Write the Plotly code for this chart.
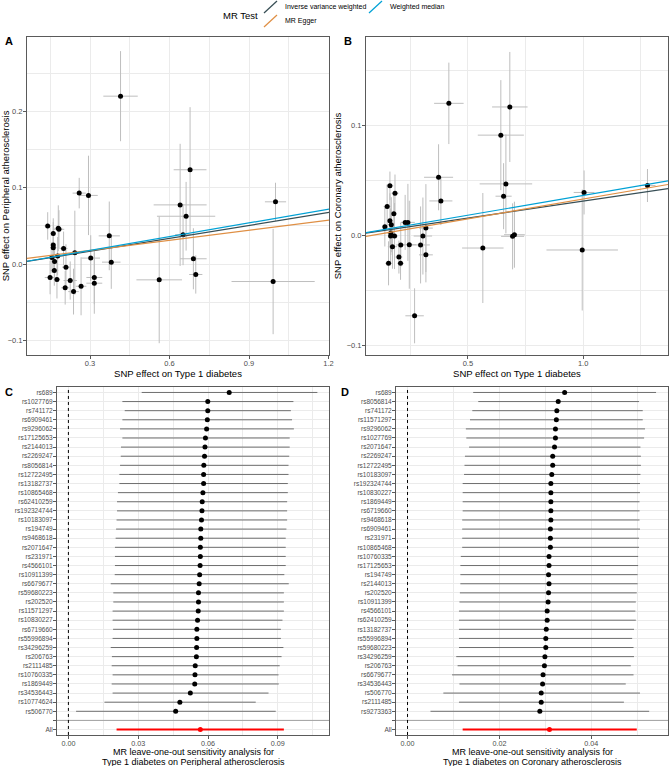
import plotly.graph_objects as go

# === DATA: scatter of SNP effects ===
# Panel A: Type 1 diabetes -> Peripheral atherosclerosis
a_bx = [0.140, 0.161, 0.161, 0.161, 0.1825, 0.180, 0.200, 0.1775, 0.156, 0.2425, 0.166, 0.209,
        0.165, 0.149, 0.175, 0.206, 0.225, 0.2375, 0.266, 0.316, 0.316, 0.3025, 0.3725, 0.380,
        0.259, 0.294, 0.415, 0.640, 0.6625, 0.651, 0.6775, 0.690, 0.699, 0.561, 1.000, 0.991]
a_by = [0.050, 0.040, 0.025, 0.0215, 0.0456, 0.047, 0.0206, 0.0105, 0.0088, 0.015, 0.0035, -0.004,
        -0.0083, -0.0175, -0.020, -0.031, -0.0215, -0.036, -0.029, -0.0175, -0.025, 0.0079, 0.037, 0.0026,
        0.093, 0.090, 0.220, 0.0776, 0.0627, 0.0386, 0.1236, 0.007, -0.0136, -0.0206, 0.0816, -0.0228]
a_sex = [0.012, 0.010, 0.010, 0.012, 0.020, 0.015, 0.015, 0.020, 0.010, 0.012, 0.012, 0.015,
         0.015, 0.020, 0.012, 0.015, 0.025, 0.020, 0.020, 0.030, 0.030, 0.035, 0.040, 0.035,
         0.025, 0.035, 0.065, 0.100, 0.110, 0.030, 0.062, 0.050, 0.025, 0.086, 0.040, 0.157]
a_sey = [0.018, 0.020, 0.030, 0.020, 0.025, 0.030, 0.022, 0.025, 0.020, 0.055, 0.020, 0.030,
         0.020, 0.022, 0.025, 0.022, 0.025, 0.030, 0.038, 0.035, 0.040, 0.030, 0.045, 0.035,
         0.020, 0.052, 0.059, 0.080, 0.045, 0.040, 0.082, 0.040, 0.025, 0.083, 0.025, 0.069]

# Panel B: Type 1 diabetes -> Coronary atherosclerosis
b_bx = [0.4176, 0.682, 0.643, 0.373, 0.162, 0.184, 0.383, 0.150, 0.179, 0.162, 0.140, 0.168,
        0.228, 0.240, 0.318, 0.166, 0.165, 0.182, 0.305, 0.173, 0.209, 0.246, 0.295, 0.318,
        0.201, 0.208, 0.156, 0.269, 0.565, 0.694, 0.702, 0.996, 0.655, 0.665, 1.004, 1.279]
b_by = [0.1197, 0.1164, 0.0908, 0.0525, 0.0447, 0.038, 0.031, 0.026, 0.0193, 0.013, 0.0076, 0.0094,
        0.0115, 0.0115, 0.0063, 0.0018, -0.0009, -0.0009, -0.0009, -0.0106, -0.009, -0.0088, -0.009, -0.018,
        -0.020, -0.0257, -0.0257, -0.0734, -0.0118, -0.0012, 0.0003, -0.0136, 0.0353, 0.0465, 0.0387, 0.045]
b_sex = [0.064, 0.077, 0.100, 0.063, 0.015, 0.015, 0.050, 0.015, 0.012, 0.012, 0.010, 0.015,
         0.020, 0.030, 0.030, 0.015, 0.012, 0.015, 0.040, 0.020, 0.020, 0.030, 0.040, 0.030,
         0.015, 0.015, 0.015, 0.040, 0.090, 0.050, 0.045, 0.155, 0.035, 0.114, 0.045, 0.035]
b_sey = [0.037, 0.050, 0.050, 0.030, 0.013, 0.017, 0.022, 0.020, 0.020, 0.025, 0.018, 0.025,
         0.025, 0.035, 0.040, 0.020, 0.025, 0.030, 0.035, 0.020, 0.020, 0.040, 0.035, 0.025,
         0.015, 0.015, 0.020, 0.025, 0.050, 0.030, 0.030, 0.055, 0.030, 0.045, 0.020, 0.015]

# MR methods (slope / intercept of each fitted line)
methods = ["Inverse variance weighted", "MR Egger", "Weighted median"]
method_colors = ["#374E55", "#DF8F44", "#00A1D5"]
a_slope = [0.0563, 0.044, 0.060]
a_icpt = [0.0, 0.0048, 0.0]
b_slope = [0.0309, 0.036, 0.036]
b_icpt = [0.0, -0.0033, 0.0]

# === DATA: leave-one-out ===
c_snp = ["rs689", "rs1027769", "rs741172", "rs6909461", "rs9296062", "rs17125653", "rs2144013",
         "rs2269247", "rs8056814", "rs12722495", "rs13182737", "rs10865468", "rs62410259",
         "rs192324744", "rs10183097", "rs194749", "rs9468618", "rs2071647", "rs231971", "rs4566101",
         "rs10911399", "rs6679677", "rs59680223", "rs202520", "rs11571297", "rs10830227", "rs6719660",
         "rs55996894", "rs34296259", "rs206763", "rs2111485", "rs10760335", "rs1869449",
         "rs34536443", "rs10774624", "rs506770"]
c_b = [0.0691, 0.0599, 0.0599, 0.0597, 0.0594, 0.0589, 0.0587, 0.0585, 0.0582, 0.0581, 0.0581, 0.0578,
       0.0575, 0.0574, 0.0572, 0.0569, 0.0569, 0.0567, 0.0567, 0.0566, 0.0564, 0.0562, 0.0559, 0.0559,
       0.0558, 0.0555, 0.0552, 0.0552, 0.0551, 0.0550, 0.0545, 0.0544, 0.0543, 0.0524, 0.0479, 0.0461]
c_lo = [0.0315, 0.0232, 0.0242, 0.0232, 0.0222, 0.0232, 0.0226, 0.0225, 0.0222, 0.0219, 0.0219, 0.0213,
        0.0209, 0.0209, 0.0207, 0.0205, 0.0203, 0.0200, 0.0200, 0.0200, 0.0199, 0.0182, 0.0193, 0.0193,
        0.0190, 0.0190, 0.0192, 0.0190, 0.0182, 0.0187, 0.0186, 0.0190, 0.0186, 0.0190, 0.0155, 0.0033]
c_hi = [0.1070, 0.0967, 0.0956, 0.0961, 0.0969, 0.0951, 0.0951, 0.0949, 0.0946, 0.0946, 0.0943, 0.0943,
        0.0940, 0.0940, 0.0940, 0.0937, 0.0934, 0.0934, 0.0934, 0.0934, 0.0928, 0.0947, 0.0926, 0.0926,
        0.0926, 0.0920, 0.0913, 0.0913, 0.0924, 0.0916, 0.0908, 0.0903, 0.0904, 0.0860, 0.0805, 0.0891]
c_all = [0.0567, 0.0207, 0.0926]

d_snp = ["rs689", "rs8056814", "rs741172", "rs11571297", "rs9296062", "rs1027769", "rs2071647",
         "rs2269247", "rs12722495", "rs10183097", "rs192324744", "rs10830227", "rs1869449",
         "rs6719660", "rs9468618", "rs6909461", "rs231971", "rs10865468", "rs10760335", "rs17125653",
         "rs194749", "rs2144013", "rs202520", "rs10911399", "rs4566101", "rs62410259", "rs13182737",
         "rs55996894", "rs59680223", "rs34296259", "rs206763", "rs6679677", "rs34536443",
         "rs506770", "rs2111485", "rs9273363"]
d_b = [0.0342, 0.0328, 0.0325, 0.0324, 0.0322, 0.0322, 0.0320, 0.0316, 0.0316, 0.0314, 0.0312, 0.0312,
       0.0312, 0.0312, 0.0312, 0.0311, 0.0311, 0.0311, 0.0308, 0.0308, 0.0307, 0.0308, 0.0307, 0.0306,
       0.0304, 0.0304, 0.0302, 0.0301, 0.0301, 0.0299, 0.0298, 0.0295, 0.0294, 0.0291, 0.0291, 0.0288]
d_lo = [0.0143, 0.0154, 0.0141, 0.0136, 0.0127, 0.0128, 0.0134, 0.0125, 0.0124, 0.0123, 0.0120, 0.0120,
        0.0120, 0.0120, 0.0119, 0.0119, 0.0119, 0.0119, 0.0116, 0.0115, 0.0115, 0.0115, 0.0114, 0.0113,
        0.0112, 0.0112, 0.0112, 0.0112, 0.0112, 0.0106, 0.0109, 0.0097, 0.0113, 0.0078, 0.0112, 0.0050]
d_hi = [0.0541, 0.0504, 0.0512, 0.0512, 0.0517, 0.0515, 0.0507, 0.0508, 0.0508, 0.0507, 0.0506, 0.0506,
        0.0505, 0.0505, 0.0505, 0.0506, 0.0504, 0.0504, 0.0502, 0.0502, 0.0501, 0.0501, 0.0499, 0.0497,
        0.0496, 0.0497, 0.0493, 0.0489, 0.0492, 0.0493, 0.0486, 0.0492, 0.0475, 0.0506, 0.0471, 0.0526]
d_all = [0.0309, 0.0120, 0.0499]

c_title = ["MR leave-one-out sensitivity analysis for", "Type 1 diabetes on Peripheral atherosclerosis"]
d_title = ["MR leave-one-out sensitivity analysis for", "Type 1 diabetes on Coronary atherosclerosis"]

# === STYLE ===
FONT = "Liberation Sans"
GRID = "#EBEBEB"
BORDER = "#5A5A5A"
TICKC = "#4D4D4D"
W, H = 669, 766

a_xr = [0.062, 1.202]
a_yr = [-0.119, 0.2975]
b_xr = [0.058, 1.368]
b_yr = [-0.109, 0.180]

fig = go.Figure()


def add_scatter(bx, by, sex, sey, slopes, icpts, xr, xa, ya):
    fig.add_trace(go.Scatter(
        x=bx, y=by, mode="markers",
        marker=dict(color="black", size=5),
        error_x=dict(type="data", array=sex, color="#BEBEBE", thickness=1, width=0),
        error_y=dict(type="data", array=sey, color="#BEBEBE", thickness=1, width=0),
        xaxis=xa, yaxis=ya, showlegend=False, hoverinfo="skip"))
    for name, col, s, c in zip(methods, method_colors, slopes, icpts):
        fig.add_trace(go.Scatter(
            x=xr, y=[c + s * xr[0], c + s * xr[1]], mode="lines",
            line=dict(color=col, width=1.2), name=name,
            xaxis=xa, yaxis=ya, showlegend=False))


add_scatter(a_bx, a_by, a_sex, a_sey, a_slope, a_icpt, a_xr, "x", "y")
add_scatter(b_bx, b_by, b_sex, b_sey, b_slope, b_icpt, b_xr, "x2", "y2")


def add_loo(snps, b, lo, hi, allv, xa, ya):
    n = len(snps)
    ypos = [n + 2 - i for i in range(n)]
    fig.add_trace(go.Scatter(
        x=b, y=ypos, mode="markers",
        marker=dict(color="black", size=5),
        error_x=dict(type="data", symmetric=False,
                     array=[h - v for h, v in zip(hi, b)],
                     arrayminus=[v - l for v, l in zip(b, lo)],
                     color="#6E6E6E", thickness=1, width=0),
        xaxis=xa, yaxis=ya, showlegend=False, hoverinfo="skip"))
    fig.add_trace(go.Scatter(
        x=[allv[0]], y=[1], mode="markers",
        marker=dict(color="red", size=5),
        error_x=dict(type="data", symmetric=False, array=[allv[2] - allv[0]],
                     arrayminus=[allv[0] - allv[1]], color="red", thickness=2.2, width=0),
        xaxis=xa, yaxis=ya, showlegend=False, hoverinfo="skip"))
    # blank row separator and zero line
    fig.add_shape(type="line", xref=xa + " domain", yref=ya, x0=0, x1=1, y0=2, y1=2,
                  line=dict(color="#A0A0A0", width=1))
    fig.add_shape(type="line", xref=xa, yref=ya + " domain", x0=0, x1=0, y0=0, y1=1,
                  line=dict(color="black", width=1, dash="dot"))
    return ypos + [2, 1], snps + ["", "All"], n


c_vals, c_text, c_n = add_loo(c_snp, c_b, c_lo, c_hi, c_all, "x3", "y3")
d_vals, d_text, d_n = add_loo(d_snp, d_b, d_lo, d_hi, d_all, "x4", "y4")

axis_common = dict(showline=True, mirror=True, linecolor=BORDER, linewidth=1,
                   gridcolor=GRID, gridwidth=1, zeroline=False, automargin=False,
                   ticks="outside", ticklen=3, tickcolor=BORDER,
                   tickfont=dict(family=FONT, size=7.5, color=TICKC))
xax = dict(axis_common, ticklabelstandoff=-2)
yax = dict(axis_common, ticklabelstandoff=-1)
title_font = dict(family=FONT, size=9.5, color="black")
loo_ytick = dict(family=FONT, size=6.5, color=TICKC)
loo_xtick = dict(family=FONT, size=7.2, color=TICKC)


def minor(step):
    return dict(dtick=step, tick0=0, showgrid=True, gridcolor=GRID, gridwidth=0.6)


fig.update_layout(
    width=W, height=H,
    margin=dict(l=0, r=0, t=0, b=0),
    paper_bgcolor="white", plot_bgcolor="white",
    font=dict(family=FONT),
    xaxis=dict(xax, domain=[0.0404, 0.4918], range=a_xr, tick0=0, dtick=0.3,
               tickformat=".1f", minor=minor(0.15), anchor="y",
               title=dict(text="SNP effect on Type 1 diabetes", font=title_font, standoff=2)),
    yaxis=dict(yax, domain=[0.5366, 0.9517], range=a_yr, tick0=0, dtick=0.1,
               tickformat=".1f", minor=minor(0.05), anchor="x",
               title=dict(text="SNP effect on Peripheral atherosclerosis", font=title_font, standoff=3)),
    xaxis2=dict(xax, domain=[0.547, 0.9985], range=b_xr, tick0=0, dtick=0.5,
                tickformat=".1f", minor=minor(0.25), anchor="y2",
                title=dict(text="SNP effect on Type 1 diabetes", font=title_font, standoff=2)),
    yaxis2=dict(yax, domain=[0.5366, 0.9517], range=b_yr, tick0=0, dtick=0.1,
                tickformat=".1f", minor=minor(0.05), anchor="x2",
                title=dict(text="SNP effect on Coronary atherosclerosis", font=title_font, standoff=3)),
    xaxis3=dict(xax, domain=[0.0852, 0.4918], range=[-0.0049, 0.112], tick0=0, dtick=0.03,
                tickformat=".2f", minor=minor(0.015), anchor="y3", tickfont=loo_xtick),
    yaxis3=dict(yax, domain=[0.0405, 0.4948], range=[0.4, c_n + 2.6],
                tickmode="array", tickvals=c_vals, ticktext=c_text, anchor="x3",
                tickfont=loo_ytick),
    xaxis4=dict(xax, domain=[0.592, 0.9985], range=[-0.0025, 0.0567], tick0=0, dtick=0.02,
                tickformat=".2f", minor=minor(0.01), anchor="y4", tickfont=loo_xtick),
    yaxis4=dict(yax, domain=[0.0405, 0.4948], range=[0.4, d_n + 2.6],
                tickmode="array", tickvals=d_vals, ticktext=d_text, anchor="x4",
                tickfont=loo_ytick),
)

# two-line x titles under the leave-one-out panels
for lines, dom in [(c_title, [0.0852, 0.4918]), (d_title, [0.592, 0.9985])]:
    for txt, py in zip(lines, [751.5, 761.5]):
        fig.add_annotation(text=txt, x=sum(dom) / 2, y=1 - py / H, xref="paper", yref="paper",
                           showarrow=False, xanchor="center", yanchor="middle",
                           font=dict(family=FONT, size=9, color="black"))

# panel tags
for tag, px, py in [("A", 3, 41), ("B", 342, 41), ("C", 3, 392), ("D", 339, 392)]:
    fig.add_annotation(text="<b>%s</b>" % tag, x=px / W, y=1 - py / H, xref="paper", yref="paper",
                       showarrow=False, xanchor="left", yanchor="middle",
                       font=dict(family=FONT, size=11, color="black"))

# legend drawn ggplot-style (diagonal keys)
fig.add_annotation(text="MR Test", x=260 / W, y=1 - 15 / H, xref="paper", yref="paper",
                   showarrow=False, xanchor="right", yanchor="middle",
                   font=dict(family=FONT, size=9.5, color="black"))
key_pos = [(264, 7), (264, 21), (369, 7)]
for name, col, (kx, ky) in zip(methods, method_colors, key_pos):
    fig.add_shape(type="line", xref="paper", yref="paper",
                  x0=kx / W, y0=1 - (ky + 6) / H, x1=(kx + 13) / W, y1=1 - (ky - 6) / H,
                  line=dict(color=col, width=1.2))
    fig.add_annotation(text=name, x=(kx + 19) / W, y=1 - ky / H, xref="paper", yref="paper",
                       showarrow=False, xanchor="left", yanchor="middle",
                       font=dict(family=FONT, size=7, color="black"))

# drop the default page margin so the figure sits at the window corner
fig.write_html("out.html", config={"displayModeBar": False},
               post_script="document.body.style.margin = '0';")
